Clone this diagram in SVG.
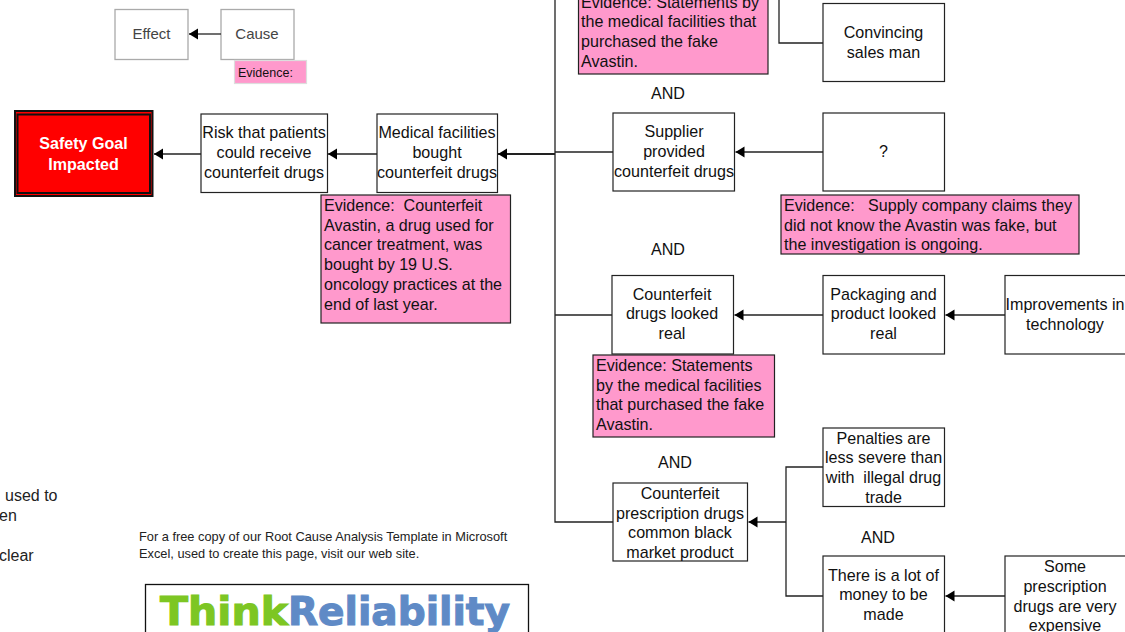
<svg xmlns="http://www.w3.org/2000/svg" width="1125" height="632" viewBox="0 0 1125 632">
<defs>
<marker id="arrow" markerUnits="userSpaceOnUse" markerWidth="11" markerHeight="12" refX="10" refY="6" orient="auto"><path d="M10 6L1 0.5L1 11.500Z" fill="#000"/></marker>
</defs>
<style>
text{font-family:"Liberation Sans",Arial,sans-serif;font-size:16.1px;fill:#111}
.c{text-anchor:middle}
.box{fill:#fff;stroke:#222;stroke-width:1.2}
.ev{fill:#ff99cc;stroke:#222;stroke-width:1.2}
.grey{fill:#fff;stroke:#aaa;stroke-width:1.3}
.gt{font-size:15px;fill:#444}
.ft{font-size:12.8px;fill:#222}
.frag{font-size:16px;fill:#222}
.con{fill:none;stroke:#222;stroke-width:1.3}
.arr{marker-end:url(#arrow)}
.logo{font-family:"DejaVu Sans",sans-serif;font-weight:bold;font-size:39px;stroke-width:1.1}
</style>
<rect width="1125" height="632" fill="#fff"/>
<g id="effect"><rect class="grey" x="115" y="9.500" width="73" height="50"/><text class="c gt" x="151.500" y="39">Effect</text></g>
<g id="cause"><rect class="grey" x="221" y="9.500" width="73" height="50"/><text class="c gt" x="257" y="39">Cause</text></g>
<g id="legend-evidence"><rect x="234.500" y="60.500" width="72" height="23" fill="#ff99cc" stroke="#ddd" stroke-width="1.200"/><text x="238" y="77" style="font-size:12.500px">Evidence:</text></g>
<g id="safety-goal">
<rect x="15" y="111" width="137.500" height="85" fill="#ff0000" stroke="#111" stroke-width="2"/>
<rect x="17.500" y="114.500" width="132.500" height="78.500" fill="#ff0000" stroke="#111" stroke-width="2"/>
<text class="c" x="83.500" y="149" style="font-weight:bold;fill:#fff">Safety Goal</text>
<text class="c" x="83.500" y="170" style="font-weight:bold;fill:#fff">Impacted</text>
</g>
<g id="risk"><rect class="box" x="201" y="114" width="126.500" height="78.500"/>
<text class="c" x="264" y="138">Risk that patients</text><text class="c" x="264" y="158">could receive</text><text class="c" x="264" y="178">counterfeit drugs</text></g>
<g id="medical"><rect class="box" x="377" y="114" width="120.500" height="78.500"/>
<text class="c" x="437" y="138">Medical facilities</text><text class="c" x="437" y="158">bought</text><text class="c" x="437" y="178">counterfeit drugs</text></g>
<g id="evidence-avastin"><rect class="ev" x="321" y="195" width="189.500" height="128"/>
<text x="324" y="211" xml:space="preserve">Evidence:  Counterfeit</text><text x="324" y="231">Avastin, a drug used for</text><text x="324" y="250">cancer treatment, was</text><text x="324" y="270">bought by 19 U.S.</text><text x="324" y="290">oncology practices at the</text><text x="324" y="310">end of last year.</text></g>
<g id="evidence-top"><rect class="ev" x="578.500" y="-12" width="189.500" height="86"/>
<text x="581" y="8">Evidence: Statements by</text><text x="581" y="27">the medical facilities that</text><text x="581" y="47">purchased the fake</text><text x="581" y="67">Avastin.</text></g>
<g id="convincing"><rect class="box" x="823" y="3.500" width="121.500" height="78"/>
<text class="c" x="883.500" y="38">Convincing</text><text class="c" x="883.500" y="58">sales man</text></g>
<text class="c" x="668" y="99">AND</text>
<g id="supplier"><rect class="box" x="613" y="113" width="121.500" height="78"/>
<text class="c" x="674" y="137">Supplier</text><text class="c" x="674" y="157">provided</text><text class="c" x="674" y="177">counterfeit drugs</text></g>
<g id="unknown"><rect class="box" x="823" y="113" width="121.500" height="78"/><text class="c" x="883.500" y="157">?</text></g>
<g id="evidence-supply"><rect class="ev" x="781" y="195" width="298" height="59"/>
<text x="784" y="211" xml:space="preserve">Evidence:   Supply company claims they</text><text x="784" y="231">did not know the Avastin was fake, but</text><text x="784" y="250">the investigation is ongoing.</text></g>
<text class="c" x="668" y="255">AND</text>
<g id="looked-real"><rect class="box" x="612" y="275.500" width="121.500" height="78.500"/>
<text class="c" x="672" y="300">Counterfeit</text><text class="c" x="672" y="319">drugs looked</text><text class="c" x="672" y="339">real</text></g>
<g id="packaging"><rect class="box" x="823" y="275.500" width="121.500" height="78.500"/>
<text class="c" x="883.500" y="300">Packaging and</text><text class="c" x="883.500" y="319">product looked</text><text class="c" x="883.500" y="339">real</text></g>
<g id="technology"><rect class="box" x="1005" y="275.500" width="122" height="78.500"/>
<text class="c" x="1065" y="310">Improvements in</text><text class="c" x="1065" y="330">technology</text></g>
<g id="evidence-real"><rect class="ev" x="593" y="355" width="181.500" height="82"/>
<text x="596" y="371">Evidence: Statements</text><text x="596" y="391">by the medical facilities</text><text x="596" y="410">that purchased the fake</text><text x="596" y="430">Avastin.</text></g>
<text class="c" x="675" y="468">AND</text>
<g id="penalties"><rect class="box" x="823" y="428" width="121.500" height="78.500"/>
<text class="c" x="883.500" y="444">Penalties are</text><text class="c" x="883.500" y="463">less severe than</text><text class="c" x="883.500" y="483" xml:space="preserve">with  illegal drug</text><text class="c" x="883.500" y="503">trade</text></g>
<g id="black-market"><rect class="box" x="613" y="483" width="134.500" height="78"/>
<text class="c" x="680" y="499">Counterfeit</text><text class="c" x="680" y="519">prescription drugs</text><text class="c" x="680" y="538">common black</text><text class="c" x="680" y="558">market product</text></g>
<text class="c" x="878" y="543">AND</text>
<g id="money"><rect class="box" x="823" y="556" width="121.500" height="78.500"/>
<text class="c" x="883.500" y="581">There is a lot of</text><text class="c" x="883.500" y="600">money to be</text><text class="c" x="883.500" y="620">made</text></g>
<g id="expensive"><rect class="box" x="1005" y="556" width="122" height="78.500"/>
<text class="c" x="1065" y="572">Some</text><text class="c" x="1065" y="592">prescription</text><text class="c" x="1065" y="612">drugs are very</text><text class="c" x="1065" y="631">expensive</text></g>
<g id="connectors">
<path class="con" d="M555 0V522H613"/>
<path class="con arr" d="M555 154H498" style="stroke-width:2"/>
<path class="con" d="M555 152H613"/>
<path class="con" d="M555 315H612"/>
<path class="con" d="M779 0V43H823"/>
<path class="con arr" d="M221 34H189"/>
<path class="con arr" d="M377 154H328"/>
<path class="con arr" d="M201 154H154"/>
<path class="con arr" d="M823 152H735.500"/>
<path class="con arr" d="M823 315H734.500"/>
<path class="con arr" d="M1005 315H945.500"/>
<path class="con arr" d="M786 522H748.500"/>
<path class="con" d="M823 467H786V596H823"/>
<path class="con arr" d="M1005 596H945.500"/>
</g>
<text class="frag" x="5" y="501">used to</text>
<text class="frag" x="-1" y="521">en</text>
<text class="frag" x="-1" y="561">clear</text>
<text class="ft" x="139" y="541">For a free copy of our Root Cause Analysis Template in Microsoft</text>
<text class="ft" x="139" y="558">Excel, used to create this page, visit our web site.</text>
<g id="logo">
<rect x="145.500" y="584.500" width="383" height="60" fill="#fff" stroke="#111" stroke-width="1.300"/>
<text class="logo" x="160" y="625" textLength="128" lengthAdjust="spacingAndGlyphs" style="fill:#7dc623;stroke:#7dc623">Think</text>
<text class="logo" x="288" y="625" textLength="222" lengthAdjust="spacingAndGlyphs" style="fill:#5f8ac6;stroke:#5f8ac6">Reliability</text>
</g>
</svg>
